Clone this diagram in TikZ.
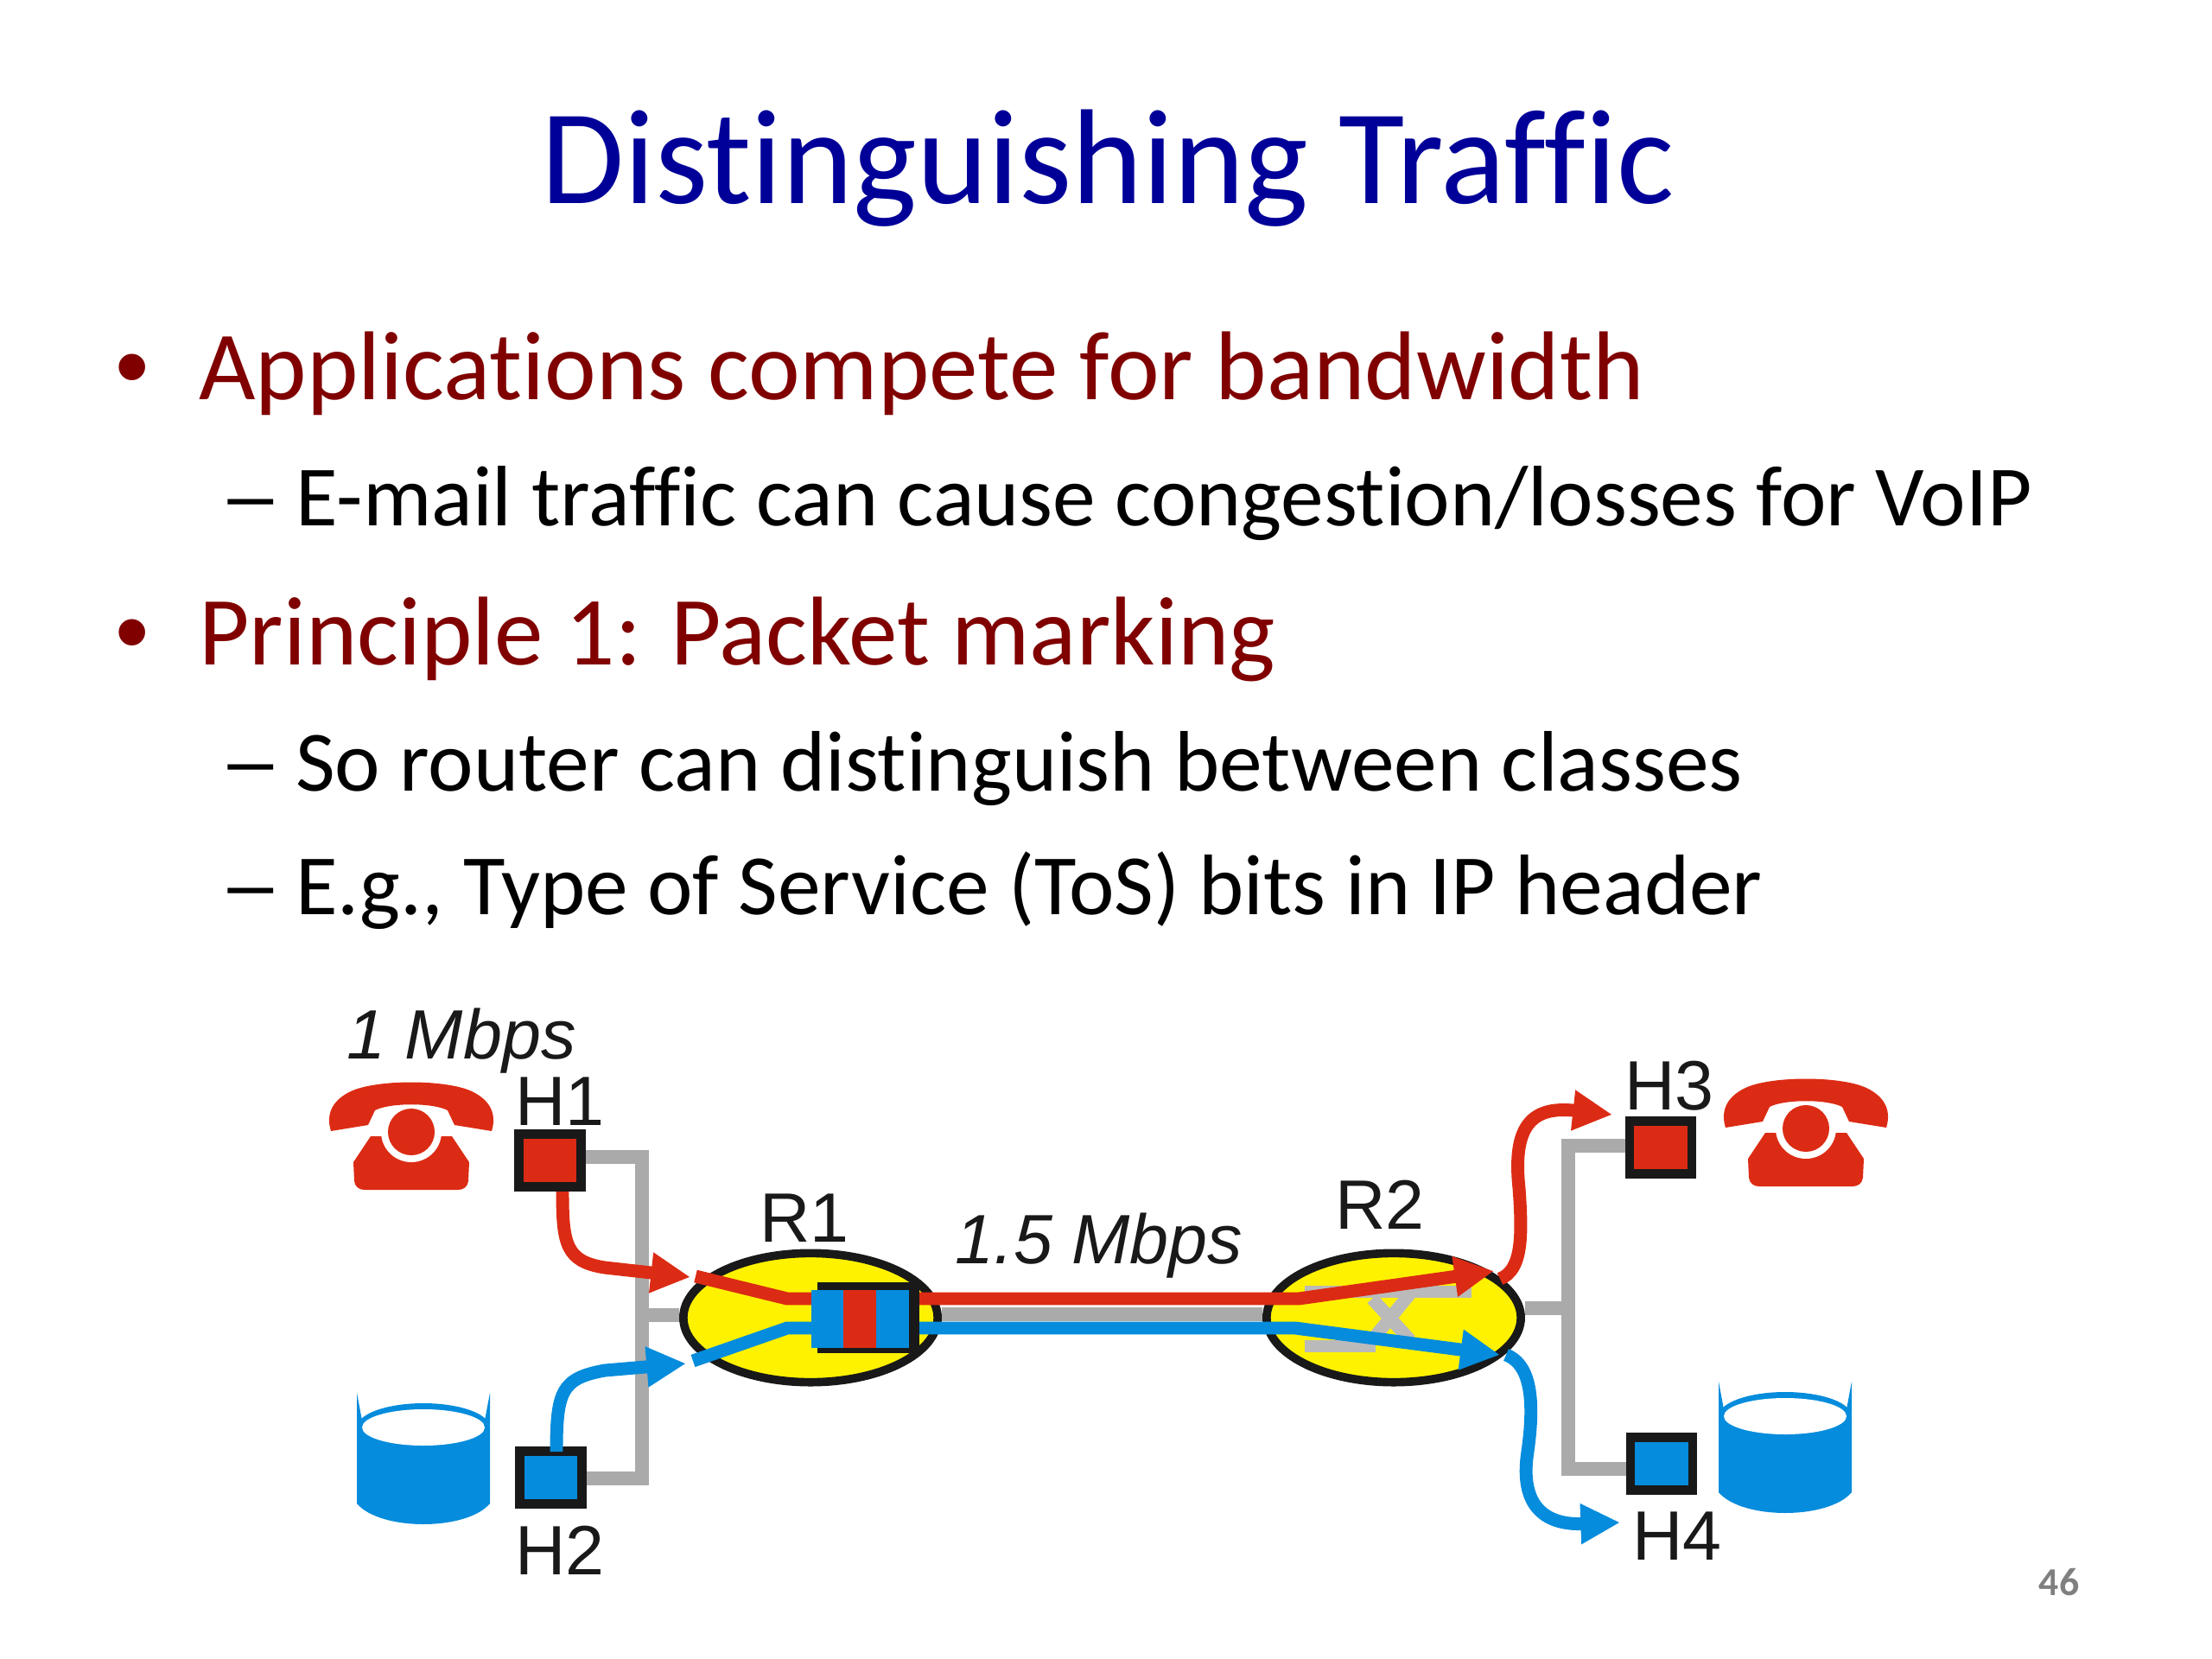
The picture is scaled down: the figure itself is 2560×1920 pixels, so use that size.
\documentclass[tikz,border=0pt]{standalone}
\usepackage{fontspec}
\setmainfont[RawFeature={-liga}]{Carlito}
\newfontfamily\diagfont{Liberation Sans}
\usetikzlibrary{arrows.meta,shapes.geometric}
\definecolor{netred}{RGB}{220,43,20}
\definecolor{netblue}{RGB}{5,140,220}
\definecolor{netgrey}{RGB}{170,170,170}
\definecolor{titleblue}{RGB}{0,0,153}
\definecolor{bulletred}{RGB}{128,0,0}
\tikzset{
  titletext/.style={anchor=base,text=titleblue,font=\fontsize{89pt}{100pt}\selectfont,inner sep=0pt},
  lvlone/.style={anchor=base west,text=bulletred,font=\fontsize{64.4pt}{70pt}\selectfont,inner sep=0pt},
  lvltwo/.style={anchor=base west,text=black,font=\fontsize{56.6pt}{60pt}\selectfont,inner sep=0pt},
  bulletmark/.style={anchor=base west,text=bulletred,font=\diagfont\fontsize{64pt}{70pt}\selectfont,inner sep=0pt},
  dashmark/.style={anchor=base west,text=black,xscale=1.5,font=\fontsize{56pt}{60pt}\selectfont,inner sep=0pt},
  dlabel/.style={anchor=base,text=black!90,font=\diagfont\fontsize{46pt}{50pt}\selectfont,inner sep=0pt},
  rate/.style={anchor=base,text=black!90,font=\diagfont\itshape\fontsize{46pt}{50pt}\selectfont,inner sep=0pt},
  hostbox/.style={draw=black!90,line width=6pt,minimum width=41pt,minimum height=35pt,inner sep=0pt,rectangle},
  router/.style={draw=black!90,fill=yellow,line width=5.5pt,ellipse,minimum width=167.5pt,minimum height=85pt,inner sep=0pt},
  wire/.style={draw=netgrey,line width=9pt},
  glyph/.style={draw=black!27,line width=8.5pt},
  flowred/.style={draw=netred,line width=8.5pt},
  flowblue/.style={draw=netblue,line width=8.5pt},
  headtip/.style={-{Triangle[length=26pt,width=25pt]}},
  pics/phoneicon/.style={code={
    \fill[netred] (-47,60) -- (-67,90) -- (-66,112) .. controls (-65,119) and (-60,122) .. (-54,122)
      -- (54,122) .. controls (60,122) and (65,119) .. (66,112) -- (67,90) -- (47,60) -- cycle;
    \fill[white] (0,55) circle[radius=35];
    \fill[netred] (-93,54) .. controls (-98,38) and (-95,20) .. (-70,8) .. controls (-40,-6) and (40,-6) .. (70,8)
      .. controls (95,20) and (98,38) .. (93,54) -- (50,47) -- (42,30) .. controls (25,21) and (-25,21) .. (-42,30) -- (-50,47) -- cycle;
    \fill[netred] (0,55) circle[radius=27];
  }},
  pics/binicon/.style={code={
    \fill[netblue] (-77,40) -- (-77,128) .. controls (-50,160) and (50,160) .. (77,128) -- (77,40) -- cycle;
    \fill[netblue] (0,40) ellipse[x radius=77,y radius=28];
    \fill[white] (0,40) ellipse[x radius=71,y radius=21];
    \fill[netblue] (-77,0) -- (-71,32) -- (-77,38) -- cycle;
    \fill[netblue] (77,0) -- (71,32) -- (77,38) -- cycle;
  }}
}
\begin{document}
\begin{tikzpicture}[x=0.02cm,y=-0.02cm]
\fill[white] (0,0) rectangle (2560,1920);
\useasboundingbox (0,0) rectangle (2560,1920);

% text
\node[titletext] (title) at (1282,235) {Distinguishing Traffic};
\node[lvlone] (b1) at (230,462) {Applications compete for bandwidth};
\node[bulletmark] (bd1) at (133,462) {•};
\node[lvltwo] (s1) at (342,608) {E-mail traffic can cause congestion/losses for VoIP};
\node[dashmark] (sd1) at (253,608) {–};
\node[lvlone] (b2) at (230,769) {Principle 1: Packet marking};
\node[bulletmark] (bd2) at (133,769) {•};
\node[lvltwo] (s2) at (342,915) {So router can distinguish between classes};
\node[dashmark] (sd2) at (253,915) {–};
\node[lvltwo] (s3) at (342,1058) {E.g., Type of Service (ToS) bits in IP header};
\node[dashmark] (sd3) at (253,1058) {–};
\node[anchor=base,text=black!50,font=\bfseries\fontsize{26pt}{28pt}\selectfont,inner sep=0pt] (pg) at (2383,1846) {46};

% icons
\pic at (476,1255) {phoneicon};
\pic at (2090,1251) {phoneicon};
\pic at (490,1612) {binicon};
\pic at (2066,1599) {binicon};

% bus corner points
\coordinate (busL) at (743,1522);
\coordinate (busR) at (1815,1514);
\coordinate (busLt) at (743,1339);
\coordinate (busLb) at (743,1711);
\coordinate (busRt) at (1815,1326);
\coordinate (busRb) at (1815,1700);

% routers
\node[router] (R1) at (938,1525) {};
\node[router] (R2) at (1613,1525) {};

% hosts
\node[hostbox,fill=netred] (H1) at (636.5,1343) {};
\node[hostbox,fill=netblue] (H2) at (637.5,1710) {};
\node[hostbox,fill=netred] (H3) at (1922,1328) {};
\node[hostbox,fill=netblue] (H4) at (1923,1694) {};

\draw[wire] (H1.east |- busLt) -- (busLt) -- (busLb) -- (H2.east |- busLb);
\draw[wire] (busL) -- (R1.west |- busL);
\draw[wire] (H3.west |- busRt) -- (busRt) -- (busRb) -- (H4.west |- busRb);
\draw[wire] (busR) -- (R2.east |- busR);

% link
\coordinate (lk) at (0,1521);
\draw[wire] (R1.east |- lk) -- (R2.west |- lk);

% R2 switch glyph
\draw[glyph] (1510,1495) -- (1703,1495);
\draw[glyph] (1510,1558) -- (1592,1558);
\draw[glyph] (1588,1503) -- (1632,1551);
\draw[glyph] (1632,1497) -- (1588,1551);

% queue
\node[fill=black!90,minimum width=67pt,minimum height=46.5pt,inner sep=0pt] (Q0) at (1005,1525) {};
\node[fill=netblue,minimum width=21.5pt,minimum height=38pt,inner sep=0pt] (Qa) at (958,1526.5) {};
\node[fill=netred,minimum width=21.5pt,minimum height=38pt,inner sep=0pt] (Qb) at (995,1526.5) {};
\node[fill=netblue,minimum width=21.5pt,minimum height=38pt,inner sep=0pt] (Qc) at (1033,1526.5) {};

% flows
\coordinate (rin) at (805,1477);
\coordinate (bin) at (802,1575);
\coordinate (rq) at (0,1503);
\coordinate (bq) at (0,1537);
\draw[flowred] (rin) -- (911,1503) -- (Qa.west |- rq);
\draw[flowblue] (bin) -- (911,1537) -- (Qa.west |- bq);
\coordinate (rout) at (1729,1471);
\coordinate (bout) at (1736,1568);
\draw[flowred,headtip] (Q0.east |- rq) -- (1503,1503) -- (rout);
\draw[flowblue,headtip] (Q0.east |- bq) -- (1499,1537) -- (bout);

\coordinate (h1out) at (651,1379);
\coordinate (h2out) at (644,1680);
\coordinate (r1tip) at (799,1478);
\coordinate (b1tip) at (794,1578);
\coordinate (r2tail) at (1736,1480);
\coordinate (b2tail) at (1743,1568);
\coordinate (h3tip) at (1866,1290);
\coordinate (h4tip) at (1875,1762);
\draw[flowred,headtip] (h1out) .. controls (651,1440) and (655,1460) .. (700,1467) -- (r1tip);
\draw[flowblue,headtip] (h2out) .. controls (644,1610) and (650,1595) .. (700,1586) -- (b1tip);
\draw[flowred,headtip] (r2tail) .. controls (1762,1470) and (1762,1430) .. (1758,1375) .. controls (1750,1300) and (1775,1280) .. (h3tip);
\draw[flowblue,headtip] (b2tail) .. controls (1775,1580) and (1775,1630) .. (1768,1680) .. controls (1758,1745) and (1790,1765) .. (h4tip);

% labels
\node[rate] (rate1) at (534,1225) {1 Mbps};
\node[rate] (rate2) at (1272,1462) {1.5 Mbps};
\node[dlabel] (LH1) at (648,1302) {H1};
\node[dlabel] (LH2) at (648,1822) {H2};
\node[dlabel] (LR1) at (931,1437) {R1};
\node[dlabel] (LR2) at (1597,1422) {R2};
\node[dlabel] (LH3) at (1932,1284) {H3};
\node[dlabel] (LH4) at (1941,1805) {H4};
\end{tikzpicture}
\end{document}
